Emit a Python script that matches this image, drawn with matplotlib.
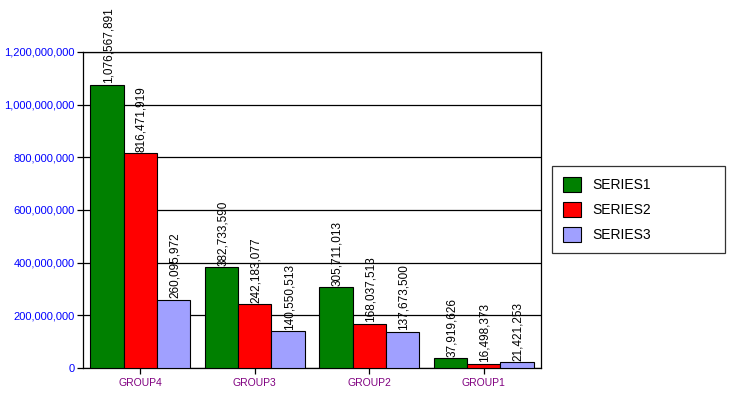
import numpy as np
import matplotlib
matplotlib.use("Agg")
import matplotlib.pyplot as plt

groups = ["GROUP4", "GROUP3", "GROUP2", "GROUP1"]
series1 = [1076567891, 382733590, 305711013, 37919626]
series2 = [816471919, 242183077, 168037513, 16498373]
series3 = [260095972, 140550513, 137673500, 21421253]
names = ["SERIES1", "SERIES2", "SERIES3"]
colors = ["#008000", "#ff0000", "#a0a0ff"]

fig = plt.figure(figsize=(7.31, 3.95), dpi=100)
ax = fig.add_axes([83 / 731, 27 / 395, 458 / 731, 316 / 395])

x = np.arange(len(groups))
w = 0.29
handles = []
for k, vals in enumerate([series1, series2, series3]):
    pos = x + (k - 1) * w
    b = ax.bar(pos, vals, width=w, color=colors[k], edgecolor="black",
               linewidth=0.8, zorder=3, label=names[k])
    handles.append(b)
    for p, v in zip(pos, vals):
        ax.text(p + 0.01, v + 5e6, f"{v:,}", rotation=90, ha="center", va="bottom",
                fontsize=8.5, family="Liberation Sans", zorder=4)

ax.set_xlim(-0.5, len(groups) - 0.5)
ax.set_ylim(0, 1.2e9)
ax.set_yticks(np.arange(0, 1.2e9 + 1, 2e8))
ax.yaxis.set_major_formatter(matplotlib.ticker.FuncFormatter(lambda v, p: f"{int(v):,}"))
ax.grid(axis="y", color="black", linewidth=0.9, zorder=1)
ax.set_xticks(x)
ax.set_xticklabels(groups)
for lab in ax.get_yticklabels():
    lab.set_color("blue")
    lab.set_fontsize(8)
    lab.set_family("Liberation Sans")
for lab in ax.get_xticklabels():
    lab.set_color("#800080")
    lab.set_fontsize(7.5)
    lab.set_family("Liberation Sans")
ax.tick_params(axis="y", length=4, width=0.9, pad=2)
ax.tick_params(axis="x", length=4, width=0.9, pad=3)
for s in ax.spines.values():
    s.set_linewidth(0.9)

leg = fig.legend(handles=handles, loc="upper left", mode="expand",
                 bbox_to_anchor=(552 / 731, 1 - 166 / 395, 173 / 731, 0),
                 frameon=True, fancybox=False, edgecolor="black", handlelength=1.3,
                 handleheight=1.3, borderpad=0.8, labelspacing=0.7, handletextpad=0.8,
                 borderaxespad=0, prop={"family": "Liberation Sans", "size": 10})
leg.get_frame().set_linewidth(0.9)

fig.savefig("out.png", dpi=100)
